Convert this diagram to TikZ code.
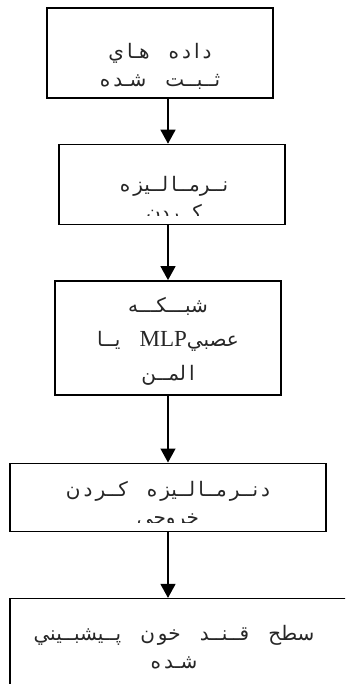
\documentclass[tikz,border=0pt]{standalone}
\usepackage{fontspec}
\newfontfamily\arabicfont[Script=Arabic,WordSpace=3]{DejaVu Sans}
\newfontfamily\latinfont{Liberation Serif}
\TeXXeTstate=1
\newcommand{\lsp}{\kern3pt}
\usetikzlibrary{positioning, arrows.meta}

\begin{document}
\begin{tikzpicture}[x=1pt, y=-1pt,
    stepbox/.style={draw, rectangle, line width=1.4pt, inner sep=0pt},
    txt/.style={align=center, inner sep=0pt, text=black!85,
        font=\arabicfont\fontsize{20}{28}\selectfont},
    arrow/.style={-{Triangle[width=15pt,length=14pt]}, line width=1.4pt}
  ]
  \clip (0,0) rectangle (345,684);

  % ── Flow boxes (vertical) ──
  \node[stepbox, minimum width=226pt, minimum height=90pt] (data) at (160,53) {};
  \node[stepbox, minimum width=226pt, minimum height=80pt,
    below=45pt of data, xshift=12pt] (norm) {};
  \node[stepbox, minimum width=226pt, minimum height=114pt,
    below=55pt of norm, xshift=-4pt] (net) {};
  \node[stepbox, minimum width=316pt, minimum height=68pt,
    below=67pt of net] (denorm) {};
  \node[stepbox, minimum width=340pt, minimum height=100pt,
    below=66pt of denorm, xshift=12pt] (pred) {};

  % ── Box texts ──
  \node[txt] (dataT) at ([yshift=-13pt]data.center)
    {\beginR د\lsp ا\lsp د\lsp ه هـا\lsp ي\endR\\\beginR ثــبــت شـد\lsp ه\endR};
  \begin{scope}
    \clip (norm.north west) rectangle ([yshift=10pt]norm.south east);
    \node[txt] (normT) at ([xshift=2pt, yshift=-16pt]norm.center)
      {\beginR نــرمــا\lsp لــيز\lsp ه\endR\\\beginR کــردن\endR};
  \end{scope}
  \node[txt, font=\arabicfont\fontsize{20}{34}\selectfont] (netT)
    at ([yshift=-4pt]net.center)
    {\beginR شبـــکـــه\endR\\\beginR عصبي\beginL{\latinfont\fontsize{23}{34}\selectfont MLP}\endL{} يــا\endR\\\beginR ا\lsp لمــن\endR};
  \begin{scope}
    \clip (denorm.north west) rectangle ([yshift=9pt]denorm.south east);
    \node[txt] (denormT) at ([yshift=-8pt]denorm.center)
      {\beginR د\lsp نــر\lsp مــا\lsp لــيز\lsp ه کــر\lsp د\lsp ن\endR\\\beginR خروجي\endR};
  \end{scope}
  \node[txt] (predT) at ([xshift=-6pt, yshift=1pt]pred.center)
    {\beginR سطح قــنــد خو\lsp ن پــيشبــيني\endR\\\beginR شـد\lsp ه\endR};

  % ── Arrows along the flow ──
  \coordinate (axis) at (168,0);
  \draw[arrow] (data.south -| axis)   -- (norm.north -| axis);
  \draw[arrow] (norm.south -| axis)   -- (net.north -| axis);
  \draw[arrow] (net.south -| axis)    -- (denorm.north -| axis);
  \draw[arrow] (denorm.south -| axis) -- (pred.north -| axis);

\end{tikzpicture}
\end{document}
